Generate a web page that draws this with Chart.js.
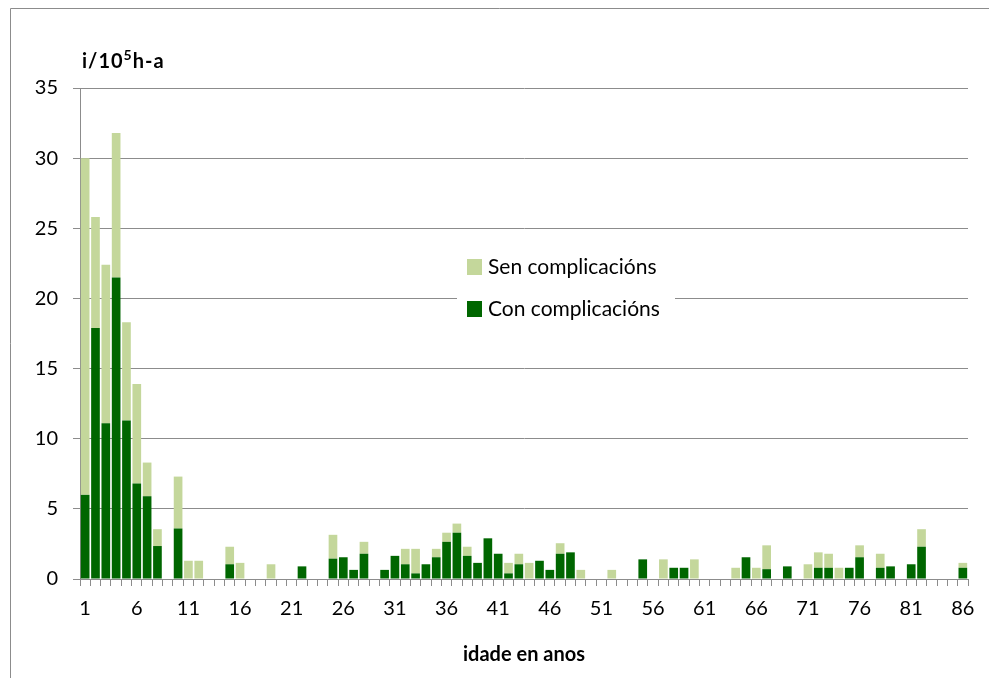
<!DOCTYPE html>
<html>
<head>
<meta charset="utf-8">
<script src="https://cdn.jsdelivr.net/npm/chart.js@4.4.1/dist/chart.umd.min.js"></script>
<style>
  html, body { margin: 0; padding: 0; background: #fff; }
  #wrap { width: 989px; height: 678px; position: relative; }
</style>
</head>
<body>
<div id="wrap"><canvas id="chart" width="989" height="678"></canvas></div>
<script>
// idade 1..86
const ages = Array.from({ length: 86 }, (_, i) => String(i + 1));
const shownTicks = ['1', '6', '11', '16', '21', '26', '31', '36', '41', '46', '51', '56', '61', '66', '71', '76', '81', '86'];

const conComplicacions = [
  6.0, 17.9, 11.1, 21.5, 11.3, 6.8, 5.9, 2.35, 0, 3.6,
  0, 0, 0, 0, 1.05, 0, 0, 0, 0, 0,
  0, 0.9, 0, 0, 1.45, 1.55, 0.65, 1.8, 0, 0.65,
  1.65, 1.05, 0.4, 1.05, 1.55, 2.65, 3.3, 1.65, 1.15, 2.9,
  1.8, 0.4, 1.05, 0, 1.3, 0.65, 1.8, 1.9, 0, 0,
  0, 0, 0, 0, 1.4, 0, 0, 0.8, 0.8, 0,
  0, 0, 0, 0, 1.55, 0, 0.7, 0, 0.9, 0,
  0, 0.8, 0.8, 0, 0.8, 1.55, 0, 0.8, 0.9, 0,
  1.05, 2.3, 0, 0, 0, 0.8
];
const senComplicacions = [
  24.0, 7.9, 11.3, 10.3, 7.0, 7.1, 2.4, 1.2, 0, 3.7,
  1.3, 1.3, 0, 0, 1.25, 1.15, 0, 0, 1.05, 0,
  0, 0, 0, 0, 1.7, 0, 0, 0.85, 0, 0,
  0, 1.1, 1.75, 0, 0.6, 0.65, 0.65, 0.65, 0, 0,
  0, 0.75, 0.75, 1.15, 0, 0, 0.75, 0, 0.65, 0,
  0, 0.65, 0, 0, 0, 0, 1.4, 0, 0, 1.4,
  0, 0, 0, 0.8, 0, 0.8, 1.7, 0, 0, 0,
  1.05, 1.1, 1.0, 0.8, 0, 0.85, 0, 1.0, 0, 0,
  0, 1.25, 0, 0, 0, 0.35
];

const FONT = 'Lato, "Open Sans", sans-serif';
const GRID = '#8c8c8c';

const decor = {
  id: 'decor',
  beforeDraw(chart) {
    const ctx = chart.ctx;
    ctx.save();
    ctx.strokeStyle = GRID;
    ctx.lineWidth = 1;
    ctx.beginPath();
    ctx.moveTo(10.5, 8.5);
    ctx.lineTo(10.5, 678);
    ctx.moveTo(10.5, 8.5);
    ctx.lineTo(989, 8.5);
    ctx.stroke();
    ctx.restore();
  },
  afterDraw(chart) {
    const ctx = chart.ctx;
    const area = chart.chartArea;
    ctx.save();
    // y axis title i/10^5 h-a
    let x = area.left + 2;
    const base = 68;
    ctx.fillStyle = '#000';
    ctx.textBaseline = 'alphabetic';
    ctx.textAlign = 'left';
    ctx.letterSpacing = '1px';
    ctx.font = 'bold 20px ' + FONT;
    ctx.fillText('i/10', x, base);
    x += ctx.measureText('i/10').width;
    ctx.font = 'bold 14px ' + FONT;
    ctx.fillText('5', x, base - 8);
    x += ctx.measureText('5').width;
    ctx.font = 'bold 20px ' + FONT;
    ctx.fillText('h-a', x, base);
    ctx.letterSpacing = '0px';

    // legend box
    ctx.fillStyle = '#fff';
    ctx.fillRect(457, 240, 218, 95);
    const items = [chart.data.datasets[1], chart.data.datasets[0]];
    items.forEach((ds, i) => {
      const y = 259 + i * 42;
      ctx.fillStyle = ds.backgroundColor;
      ctx.fillRect(467, y, 15, 16);
      ctx.fillStyle = '#000';
      ctx.font = '21px ' + FONT;
      ctx.textBaseline = 'middle';
      ctx.fillText(ds.label, 488, y + 8);
    });
    ctx.restore();
  }
};

new Chart(document.getElementById('chart'), {
  type: 'bar',
  data: {
    labels: ages,
    datasets: [
      {
        label: 'Con complicacións',
        data: conComplicacions,
        backgroundColor: '#006600',
        borderWidth: 0,
        barPercentage: 0.84,
        categoryPercentage: 1
      },
      {
        label: 'Sen complicacións',
        data: senComplicacions,
        backgroundColor: '#c4d79b',
        borderWidth: 0,
        barPercentage: 0.84,
        categoryPercentage: 1
      }
    ]
  },
  options: {
    responsive: false,
    animation: false,
    devicePixelRatio: 1,
    layout: { padding: { top: 88, right: 21, left: 0, bottom: 0 } },
    plugins: {
      legend: { display: false },
      tooltip: { enabled: false }
    },
    scales: {
      x: {
        stacked: true,
        grid: { drawOnChartArea: false, color: GRID, tickLength: 7 },
        border: { color: GRID },
        ticks: {
          autoSkip: false,
          maxRotation: 0,
          color: '#000',
          padding: 11,
          font: { family: FONT, size: 20 },
          callback: (v, i) => shownTicks.includes(ages[i]) ? ages[i] : ''
        },
        title: {
          display: true,
          text: 'idade en anos',
          color: '#000',
          font: { family: FONT, size: 20, weight: 'bold' },
          padding: { top: 0, bottom: 11 }
        },
        afterFit: (scale) => { scale.height = 99; }
      },
      y: {
        stacked: true,
        min: 0,
        max: 35,
        grid: { color: GRID, tickLength: 7 },
        border: { color: GRID },
        ticks: {
          stepSize: 5,
          color: '#000',
          padding: 15,
          font: { family: FONT, size: 20 }
        },
        afterFit: (scale) => { scale.width = 80; }
      }
    }
  },
  plugins: [decor]
});
</script>
</body>
</html>
